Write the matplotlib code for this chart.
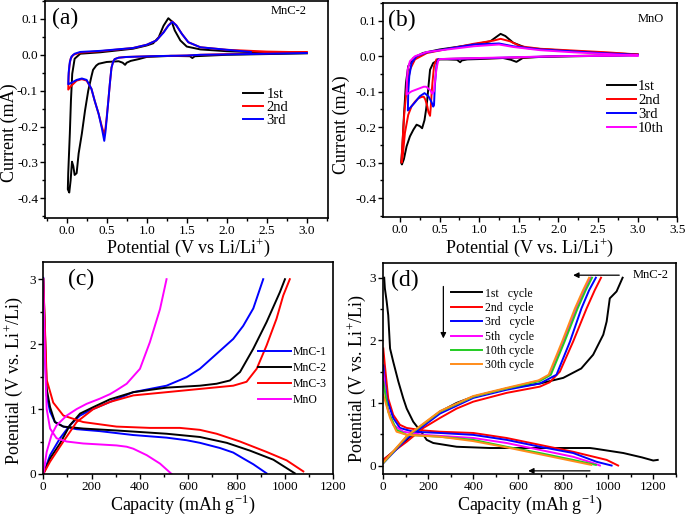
import matplotlib
matplotlib.use("Agg")
import matplotlib.pyplot as plt
from matplotlib.ticker import MultipleLocator, FormatStrFormatter

plt.rcParams['font.family'] = ['Liberation Serif', 'DejaVu Serif']
plt.rcParams['axes.unicode_minus'] = False
plt.rcParams['mathtext.fontset'] = 'custom'
plt.rcParams['mathtext.rm'] = 'Liberation Serif'

# ---------------- (a) MnC-2 CV ----------------
a1_x = [3.0, 2.5, 2.0, 1.6, 1.57, 1.54, 1.3, 1.0, 0.9, 0.8, 0.75, 0.73, 0.70, 0.65, 0.5, 0.4, 0.37,
        0.33, 0.31, 0.27, 0.23, 0.19, 0.15, 0.125, 0.1, 0.083, 0.067, 0.05, 0.033, 0.015, 0.02, 0.04,
        0.054, 0.07, 0.1, 0.17, 0.42, 0.83, 1.0, 1.08, 1.15, 1.21, 1.27, 1.31, 1.35, 1.42, 1.5, 1.67,
        2.0, 2.5, 3.0]
a1_y = [0.004, 0.002, 0.0, -0.004, -0.009, -0.004, -0.003, -0.006, -0.012, -0.017, -0.022, -0.028,
        -0.022, -0.018, -0.02, -0.025, -0.03, -0.042, -0.06, -0.10, -0.155, -0.22, -0.275, -0.33,
        -0.335, -0.31, -0.298, -0.35, -0.384, -0.375, -0.33, -0.22, -0.127, -0.053, -0.011, 0.003,
        0.007, 0.017, 0.026, 0.032, 0.049, 0.081, 0.102, 0.094, 0.068, 0.04, 0.023, 0.015, 0.01,
        0.006, 0.005]
a2_x = [3.0, 2.5, 2.0, 1.67, 1.5, 1.04, 0.75, 0.65, 0.6, 0.58, 0.56, 0.54, 0.52, 0.5, 0.485, 0.47,
        0.44, 0.40, 0.35, 0.31, 0.25, 0.19, 0.125, 0.06, 0.02, 0.025, 0.035, 0.05, 0.083, 0.17, 0.42,
        0.83, 1.0, 1.12, 1.21, 1.27, 1.32, 1.37, 1.44, 1.52, 1.67, 2.0, 2.5, 3.0]
a2_y = [0.006, 0.004, 0.002, 0.0, -0.002, -0.004, -0.006, -0.008, -0.012, -0.02, -0.036, -0.08,
        -0.13, -0.175, -0.205, -0.222, -0.2, -0.165, -0.128, -0.095, -0.072, -0.068, -0.072, -0.086,
        -0.097, -0.06, -0.03, -0.011, 0.0, 0.006, 0.01, 0.019, 0.028, 0.04, 0.063, 0.082, 0.093,
        0.082, 0.058, 0.035, 0.021, 0.014, 0.009, 0.007]
a3_x = [3.0, 2.5, 2.0, 1.67, 1.5, 1.04, 0.75, 0.65, 0.6, 0.58, 0.56, 0.54, 0.52, 0.5, 0.485, 0.47,
        0.44, 0.40, 0.35, 0.31, 0.25, 0.19, 0.125, 0.06, 0.02, 0.025, 0.04, 0.06, 0.1, 0.17, 0.42,
        0.83, 1.0, 1.12, 1.21, 1.27, 1.32, 1.37, 1.44, 1.52, 1.67, 2.0, 2.3]
a3_y = [0.005, 0.003, 0.001, 0.0, -0.002, -0.004, -0.006, -0.008, -0.012, -0.02, -0.036, -0.08,
        -0.13, -0.18, -0.215, -0.24, -0.205, -0.165, -0.128, -0.095, -0.07, -0.066, -0.07, -0.078,
        -0.082, -0.05, -0.02, -0.005, 0.003, 0.008, 0.011, 0.019, 0.028, 0.04, 0.062, 0.081, 0.092,
        0.082, 0.058, 0.035, 0.021, 0.014, 0.008]
a_labels = ['1st', '2nd', '3rd']

# ---------------- (b) MnO CV ----------------
b1_x = [3.0, 2.5, 2.0, 1.77, 1.55, 1.47, 1.40, 1.3, 1.0, 0.85, 0.78, 0.76, 0.72, 0.6, 0.5, 0.46,
        0.42, 0.38, 0.36, 0.345, 0.33, 0.31, 0.28, 0.25, 0.21, 0.17, 0.126, 0.084, 0.05, 0.025,
        0.015, 0.03, 0.05, 0.076, 0.105, 0.17, 0.29, 0.5, 0.93, 1.14, 1.22, 1.27, 1.33, 1.43, 1.6,
        2.19, 2.61, 3.0]
b1_y = [0.003, 0.001, -0.001, -0.002, -0.005, -0.016, -0.01, -0.005, -0.008, -0.009, -0.012,
        -0.017, -0.01, -0.009, -0.009, -0.014, -0.019, -0.038, -0.085, -0.122, -0.15, -0.18, -0.203,
        -0.197, -0.193, -0.207, -0.226, -0.254, -0.29, -0.305, -0.3, -0.26, -0.17, -0.075, -0.028,
        -0.005, 0.009, 0.019, 0.033, 0.042, 0.055, 0.063, 0.057, 0.038, 0.023, 0.014, 0.009, 0.005]
b2_x = [3.0, 2.0, 1.35, 1.0, 0.5, 0.46, 0.43, 0.41, 0.40, 0.39, 0.38, 0.36, 0.345, 0.32, 0.3, 0.27,
        0.23, 0.19, 0.147, 0.105, 0.063, 0.034, 0.02, 0.025, 0.034, 0.055, 0.084, 0.126, 0.19, 0.34,
        0.93, 1.18, 1.27, 1.39, 1.52, 1.77, 2.61, 3.0]
b2_y = [0.004, 0.0, -0.005, -0.006, -0.008, -0.009, -0.028, -0.075, -0.103, -0.141, -0.168, -0.158,
        -0.141, -0.122, -0.114, -0.115, -0.119, -0.128, -0.141, -0.165, -0.216, -0.285, -0.3, -0.27,
        -0.235, -0.16, -0.094, -0.038, -0.009, 0.009, 0.035, 0.044, 0.049, 0.042, 0.028, 0.021,
        0.011, 0.005]
b3_x = [3.0, 2.0, 1.0, 0.5, 0.48, 0.46, 0.44, 0.43, 0.42, 0.40, 0.36, 0.31, 0.25, 0.19, 0.126, 0.1,
        0.105, 0.118, 0.147, 0.21, 0.34, 0.93, 1.25, 1.43, 1.77, 2.53, 3.0]
b3_y = [0.003, 0.0, -0.006, -0.008, -0.009, -0.028, -0.085, -0.138, -0.142, -0.13, -0.113, -0.104,
        -0.113, -0.13, -0.146, -0.153, -0.1, -0.056, -0.019, 0.0, 0.011, 0.033, 0.036, 0.028, 0.019,
        0.009, 0.004]
b4_x = [3.0, 2.0, 1.0, 0.5, 0.48, 0.46, 0.44, 0.43, 0.41, 0.38, 0.33, 0.3, 0.23, 0.147, 0.084,
        0.086, 0.097, 0.126, 0.19, 0.34, 0.93, 1.25, 1.43, 1.77, 2.19, 3.0]
b4_y = [0.002, 0.0, -0.005, -0.008, -0.014, -0.038, -0.075, -0.098, -0.106, -0.095, -0.086, -0.086,
        -0.092, -0.099, -0.108, -0.075, -0.038, -0.014, 0.0, 0.012, 0.028, 0.033, 0.026, 0.017, 0.011,
        0.002]
b_labels = ['1st', '2nd', '3rd', '10th']

# ---------------- (c) charge/discharge of samples ----------------
c1d_x = [0, 7, 14, 28, 48, 83, 138, 234, 372, 510, 593, 648, 731, 786, 827, 869, 924]
c1d_y = [3.02, 1.82, 1.21, 0.96, 0.80, 0.73, 0.69, 0.66, 0.60, 0.56, 0.52, 0.48, 0.40, 0.33, 0.24, 0.15, 0.01]
c1c_x = [0, 28, 69, 110, 152, 193, 276, 372, 510, 593, 648, 717, 786, 827, 869, 910]
c1c_y = [0, 0.29, 0.55, 0.75, 0.9, 0.98, 1.11, 1.26, 1.36, 1.49, 1.62, 1.85, 2.08, 2.28, 2.55, 3.0]
c2d_x = [0, 14, 28, 48, 83, 165, 303, 510, 648, 759, 855, 952, 1041]
c2d_y = [3.0, 1.31, 1.03, 0.80, 0.73, 0.70, 0.67, 0.62, 0.57, 0.48, 0.36, 0.22, 0.01]
c2c_x = [0, 28, 69, 110, 152, 207, 276, 372, 510, 648, 717, 772, 814, 869, 924, 979, 1000]
c2c_y = [0, 0.24, 0.47, 0.75, 0.93, 1.03, 1.15, 1.26, 1.33, 1.36, 1.39, 1.44, 1.57, 1.93, 2.34, 2.8, 3.0]
c3d_x = [0, 14, 41, 83, 165, 303, 441, 565, 648, 717, 814, 924, 1007, 1076]
c3d_y = [3.0, 1.45, 1.1, 0.9, 0.8, 0.73, 0.71, 0.71, 0.68, 0.62, 0.5, 0.34, 0.21, 0.04]
c3c_x = [0, 28, 83, 138, 207, 276, 372, 510, 648, 786, 841, 883, 924, 965, 993, 1020]
c3c_y = [0, 0.19, 0.5, 0.8, 1.0, 1.11, 1.21, 1.26, 1.31, 1.36, 1.42, 1.62, 1.98, 2.39, 2.75, 3.0]
c4d_x = [0, 7, 14, 28, 55, 97, 165, 234, 303, 345, 372, 428, 483, 531]
c4d_y = [3.0, 1.8, 1.0, 0.7, 0.55, 0.5, 0.47, 0.455, 0.44, 0.42, 0.39, 0.29, 0.16, 0.0]
c4c_x = [0, 14, 34, 55, 97, 138, 179, 234, 276, 303, 345, 400, 441, 483, 510]
c4c_y = [0, 0.34, 0.6, 0.75, 0.9, 1.0, 1.08, 1.16, 1.23, 1.29, 1.39, 1.62, 2.03, 2.54, 3.0]
c_labels = ['MnC-1', 'MnC-2', 'MnC-3', 'MnO']

# ---------------- (d) MnC-2 cycles ----------------
d1d_x = [4, 7, 15, 22, 30, 44, 67, 89, 104, 133, 178, 193, 222, 326, 474, 696, 844, 919, 940, 1067, 1150, 1200, 1220]
d1d_y = [3.0, 2.83, 2.62, 2.4, 1.87, 1.66, 1.34, 1.07, 0.91, 0.70, 0.49, 0.41, 0.36, 0.30, 0.28, 0.28, 0.28, 0.28, 0.27, 0.2, 0.13, 0.08, 0.09]
d1c_x = [0, 44, 104, 178, 252, 326, 400, 548, 696, 800, 880, 933, 978, 993, 1007, 1037, 1064]
d1c_y = [0.09, 0.22, 0.41, 0.65, 0.86, 1.0, 1.1, 1.23, 1.31, 1.4, 1.55, 1.77, 2.09, 2.3, 2.67, 2.78, 3.0]
d2d_x = [0, 7, 22, 44, 74, 104, 178, 252, 400, 548, 696, 844, 993, 1044]
d2d_y = [1.87, 1.6, 1.07, 0.81, 0.65, 0.6, 0.56, 0.54, 0.52, 0.44, 0.33, 0.22, 0.09, 0.0]
d2c_x = [0, 44, 104, 178, 252, 326, 400, 548, 696, 740, 785, 844, 904, 940, 968]
d2c_y = [0.09, 0.22, 0.38, 0.6, 0.76, 0.91, 1.02, 1.16, 1.26, 1.33, 1.5, 1.98, 2.51, 2.8, 3.0]
d3d_x = [0, 15, 44, 74, 133, 252, 400, 548, 696, 844, 948, 1015]
d3d_y = [1.6, 1.07, 0.76, 0.6, 0.54, 0.52, 0.49, 0.41, 0.3, 0.2, 0.06, 0.0]
d3c_x = [0, 104, 252, 400, 548, 696, 770, 830, 881, 915, 945]
d3c_y = [0.04, 0.43, 0.83, 1.08, 1.21, 1.31, 1.45, 1.98, 2.51, 2.8, 3.0]
d5d_x = [0, 15, 44, 89, 178, 400, 548, 696, 844, 933, 963]
d5d_y = [1.5, 0.97, 0.65, 0.54, 0.49, 0.44, 0.36, 0.25, 0.14, 0.04, 0.0]
d5c_x = [0, 104, 252, 400, 548, 696, 741, 800, 859, 895, 922]
d5c_y = [0.04, 0.46, 0.86, 1.1, 1.23, 1.36, 1.45, 1.98, 2.51, 2.8, 3.0]
d10d_x = [0, 22, 59, 104, 252, 400, 548, 696, 844, 945]
d10d_y = [1.34, 0.86, 0.57, 0.49, 0.46, 0.41, 0.3, 0.2, 0.09, 0.01]
d10c_x = [0, 104, 252, 400, 548, 696, 745, 806, 864, 900, 928]
d10c_y = [0.04, 0.46, 0.86, 1.1, 1.23, 1.35, 1.45, 1.98, 2.51, 2.8, 3.0]
d30d_x = [0, 30, 59, 104, 252, 400, 548, 696, 844, 925]
d30d_y = [1.13, 0.76, 0.54, 0.49, 0.46, 0.39, 0.29, 0.18, 0.07, 0.01]
d30c_x = [0, 104, 252, 400, 548, 690, 735, 795, 852, 888, 915]
d30c_y = [0.05, 0.47, 0.87, 1.11, 1.24, 1.36, 1.45, 1.98, 2.51, 2.8, 3.0]
d_labels = ['1st   cycle', '2nd  cycle', '3rd   cycle', '5th   cycle', '10th cycle', '30th cycle']

W, H = 685, 516
fig = plt.figure(figsize=(W / 100, H / 100), dpi=100)

def px_axes(l, t, r, b):
    return fig.add_axes([l / W, 1 - b / H, (r - l) / W, (b - t) / H])

axa = px_axes(45, 1, 327.7, 218)
axb = px_axes(383.3, 3, 677.3, 217.3)
axc = px_axes(43.3, 262.3, 333.3, 474)
axd = px_axes(383.3, 263.3, 675.7, 474.3)

lw = 1.4
TS = 9.5

def style(ax, xmaj, xmin, ymaj, ymin, fmt=None):
    ax.xaxis.set_major_locator(MultipleLocator(xmaj))
    ax.xaxis.set_minor_locator(MultipleLocator(xmin))
    ax.yaxis.set_major_locator(MultipleLocator(ymaj))
    ax.yaxis.set_minor_locator(MultipleLocator(ymin))
    if fmt:
        ax.xaxis.set_major_formatter(FormatStrFormatter(fmt))
        ax.yaxis.set_major_formatter(FormatStrFormatter(fmt))
    ax.tick_params(which='major', direction='out', length=3.5, width=1, labelsize=TS, pad=1.5)
    ax.tick_params(which='minor', direction='out', length=2, width=1)
    for s in ax.spines.values():
        s.set_linewidth(1.2)

# (a)
axa.plot(a1_x, a1_y, color='black', lw=lw, label=a_labels[0])
axa.plot(a2_x, a2_y, color='red', lw=lw, label=a_labels[1])
axa.plot(a3_x, a3_y, color='blue', lw=lw, label=a_labels[2])
axa.set_xlim(-0.27, 3.26)
axa.set_ylim(-0.455, 0.15)
style(axa, 0.5, 0.25, 0.1, 0.05, '%.1f')
axa.legend(loc='upper left', bbox_to_anchor=(0.70, 0.60), frameon=False, fontsize=10.5,
           handlelength=1.4, handletextpad=0.2, labelspacing=0.0, borderpad=0, borderaxespad=0)
axa.text(0.80, 0.955, 'MnC-2', transform=axa.transAxes, fontsize=9, va='center', ha='left')
axa.text(0.025, 0.92, '(a)', transform=axa.transAxes, fontsize=17, va='center', ha='left')

# (b)
axb.plot(b1_x, b1_y, color='black', lw=lw, label=b_labels[0])
axb.plot(b2_x, b2_y, color='red', lw=lw, label=b_labels[1])
axb.plot(b3_x, b3_y, color='blue', lw=lw, label=b_labels[2])
axb.plot(b4_x, b4_y, color='#ff00ff', lw=lw, label=b_labels[3])
axb.set_xlim(-0.21, 3.5)
axb.set_ylim(-0.454, 0.15)
style(axb, 0.5, 0.25, 0.1, 0.05, '%.1f')
axb.legend(loc='upper left', bbox_to_anchor=(0.76, 0.64), frameon=False, fontsize=10.5,
           handlelength=2.0, handletextpad=0.15, labelspacing=0.05, borderpad=0, borderaxespad=0)
axb.text(0.865, 0.925, 'MnO', transform=axb.transAxes, fontsize=9, va='center', ha='left')
axb.text(0.015, 0.92, '(b)', transform=axb.transAxes, fontsize=17, va='center', ha='left')

# (c)
cols_c = ['blue', 'black', 'red', '#ff00ff']
for (dx, dy, cx, cy), col, lab in zip(
        [(c1d_x, c1d_y, c1c_x, c1c_y), (c2d_x, c2d_y, c2c_x, c2c_y),
         (c3d_x, c3d_y, c3c_x, c3c_y), (c4d_x, c4d_y, c4c_x, c4c_y)], cols_c, c_labels):
    axc.plot(dx, dy, color=col, lw=lw, label=lab)
    axc.plot(cx, cy, color=col, lw=lw)
axc.set_xlim(0, 1200)
axc.set_ylim(0, 3.26)
style(axc, 200, 100, 1, 0.5)
axc.legend(loc='upper left', bbox_to_anchor=(0.74, 0.605), frameon=False, fontsize=8.5,
           handlelength=2.8, handletextpad=0.1, labelspacing=0.35, borderpad=0, borderaxespad=0)
axc.text(0.085, 0.92, '(c)', transform=axc.transAxes, fontsize=17, va='center', ha='left')

# (d)
cols_d = ['black', 'red', 'blue', '#ff00ff', '#22cc22', '#ff8c1a']
d_sets = [(d1d_x, d1d_y, d1c_x, d1c_y), (d2d_x, d2d_y, d2c_x, d2c_y), (d3d_x, d3d_y, d3c_x, d3c_y),
          (d5d_x, d5d_y, d5c_x, d5c_y), (d10d_x, d10d_y, d10c_x, d10c_y), (d30d_x, d30d_y, d30c_x, d30c_y)]
for (dx, dy, cx, cy), col, lab in zip(d_sets, cols_d, d_labels):
    axd.plot(dx, dy, color=col, lw=lw, label=lab)
    axd.plot(cx, cy, color=col, lw=lw)
axd.set_xlim(0, 1300)
axd.set_ylim(-0.14, 3.23)
style(axd, 200, 100, 1, 0.5)
axd.legend(loc='upper left', bbox_to_anchor=(0.232, 0.885), frameon=False, fontsize=8.5,
           handlelength=2.6, handletextpad=0.3, labelspacing=0.2, borderpad=0, borderaxespad=0)
axd.text(0.025, 0.92, '(d)', transform=axd.transAxes, fontsize=17, va='center', ha='left')
axd.text(1190, 3.04, 'MnC-2', fontsize=9, va='center', ha='center')
arr = dict(arrowstyle='-|>', color='black', lw=0.9, mutation_scale=8, shrinkA=0, shrinkB=0)
axd.annotate('', xy=(844, 3.04), xytext=(1049, 3.04), arrowprops=arr)
axd.annotate('', xy=(644, -0.085), xytext=(919, -0.085), arrowprops=arr)
axd.annotate('', xy=(267, 2.03), xytext=(267, 2.86), arrowprops=arr)

# axis labels
LS = 13
def ftext(x, y, s, rot=0):
    fig.text(x / W, 1 - y / H, s, fontsize=LS, rotation=rot, ha='center', va='center')

ftext(9, 133, 'Current (mA)', 90)
ftext(188, 248, 'Potential (V vs Li/Li$^{+}$)')
ftext(341, 125, 'Current (mA)', 90)
ftext(530, 248, 'Potential (V vs. Li/Li$^{+}$)')
ftext(14, 380, 'Potential (V vs. Li$^{+}$/Li)', 90)
ftext(183, 504, 'Capacity (mAh g$^{-1}$)')
ftext(357, 378, 'Potential (V vs. Li$^{+}$/Li)', 90)
ftext(530, 504, 'Capacity (mAh g$^{-1}$)')

fig.savefig('out.png', dpi=100)
